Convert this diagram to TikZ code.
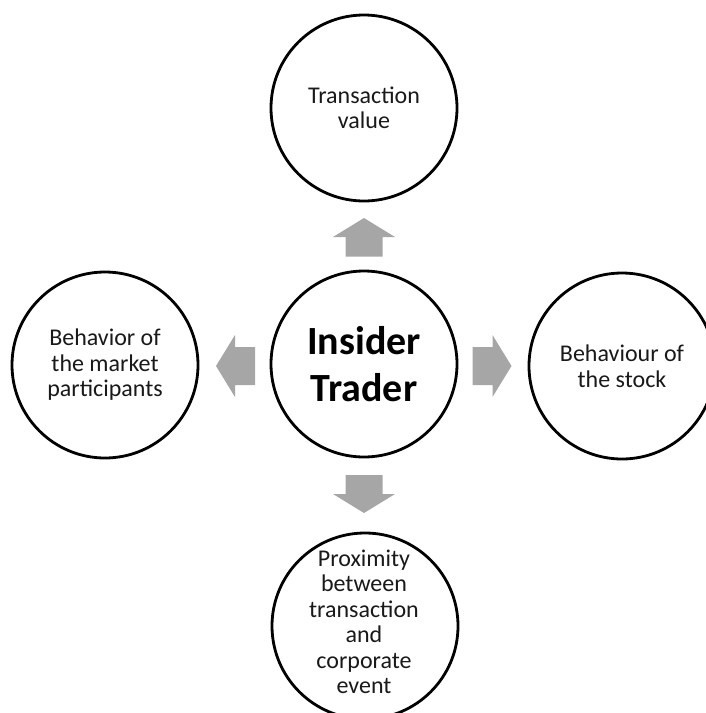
\documentclass[tikz,border=0pt]{standalone}
\usepackage{fontspec}
\setmainfont{Carlito}
\begin{document}
\begin{tikzpicture}[x=1pt,y=-1pt,
  circ/.style={circle, draw=black, line width=2.8pt, minimum size=186pt, inner sep=0pt},
  lbl/.style={align=center, font=\fontsize{24}{25.5}\selectfont, text=black!90},
  big/.style={align=center, font=\fontsize{40}{47}\selectfont\bfseries},
  blk/.style={fill=black!35, draw=none}]
\useasboundingbox (0,0) rectangle (706,713);
\clip (0,0) rectangle (706,713);
% circles
\node[circ] (c) at (364,364) {};
\node[circ] (t) at (364,108) {};
\node[circ] (l) at (105,365) {};
\node[circ] (r) at (622,366) {};
\node[circ] (b) at (365,626) {};
% texts
\node[big] (ct) at (c) {Insider\\Trader};
\node[lbl] (tt) at (t) {Transaction\\value};
\node[lbl] (lt) at (l) {Behavior of\\the market\\participants};
\node[lbl] (rt) at (r) {Behaviour of\\the stock};
\node[lbl] (bt) at (364,622) {Proximity\\between\\transaction\\and\\corporate\\event};
% block arrows
\fill[blk] (345.5,256.5) -- (345.5,237) -- (333,237) -- (364,218) -- (395,237) -- (382.5,237) -- (382.5,256.5) -- cycle;
\fill[blk] (345.5,475) -- (382.5,475) -- (382.5,494) -- (395,494) -- (364,513) -- (333,494) -- (345.5,494) -- cycle;
\fill[blk] (255,347) -- (235,347) -- (235,335) -- (216,366) -- (235,397) -- (235,385) -- (255,385) -- cycle;
\fill[blk] (472.5,347) -- (492.5,347) -- (492.5,335) -- (511.5,366) -- (492.5,397) -- (492.5,385) -- (472.5,385) -- cycle;
\end{tikzpicture}
\end{document}
